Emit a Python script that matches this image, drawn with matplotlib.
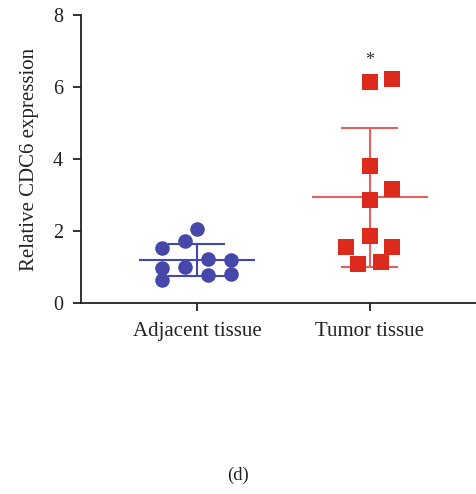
import matplotlib
matplotlib.use("Agg")
import matplotlib.pyplot as plt
import numpy as np

categories = ["Adjacent tissue", "Tumor tissue"]
adjacent_values = [1.52, 0.96, 0.64, 1.72, 1.01, 2.05, 1.21, 0.78, 1.19, 0.80]
adjacent_offsets = [-0.20, -0.20, -0.20, -0.07, -0.07, 0.0, 0.065, 0.065, 0.195, 0.195]
tumor_values = [6.15, 6.22, 3.81, 3.18, 2.86, 1.87, 1.56, 1.56, 1.08, 1.14]
tumor_offsets = [0.0, 0.13, 0.0, 0.13, 0.0, 0.0, -0.14, 0.13, -0.07, 0.065]
yticks = [0, 2, 4, 6, 8]

plt.rcParams['font.family'] = ['Liberation Serif', 'DejaVu Serif']

fig = plt.figure(figsize=(4.76, 4.94), dpi=100)
ax = fig.add_axes([81/476, 1-303/494, 1-81/476, (303-15)/494])

groups = [
    (adjacent_values, adjacent_offsets, 'o', '#4548a8', '#3f48b5', 0),
    (tumor_values, tumor_offsets, 's', '#dc2a1c', '#e46060', 1),
]
for vals, offs, mk, mcol, lcol, xi in groups:
    v = np.array(vals)
    m = v.mean()
    s = v.std(ddof=1)
    ax.scatter(xi + np.array(offs), v, marker=mk, s=110 if mk == 'o' else 120,
               color=mcol, zorder=3, linewidths=0)
    ax.hlines(m, xi - 0.333, xi + 0.333, color=lcol, lw=1.5, zorder=2)
    ax.hlines([m - s, m + s], xi - 0.165, xi + 0.165, color=lcol, lw=1.5, zorder=2)
    ax.vlines(xi, m - s, m + s, color=lcol, lw=1.5, zorder=2)

ax.text(1, 6.75, "*", ha='center', va='center', fontsize=13, color='#333333')

ax.set_xlim(-0.67, 1.613)
ax.set_ylim(0, 8)
ax.set_yticks(yticks)
ax.set_xticks([0, 1])
ax.set_xticklabels(categories)
for sp in ['top', 'right']:
    ax.spines[sp].set_visible(False)
for sp in ['left', 'bottom']:
    ax.spines[sp].set_linewidth(1.3)
    ax.spines[sp].set_color('#222222')
ax.tick_params(axis='both', length=6, width=1.3, color='#222222', labelsize=14.5,
               labelcolor='#222222')
ax.tick_params(axis='x', labelsize=15, pad=8)
ax.tick_params(axis='y', pad=7)
ax.set_ylabel("Relative CDC6 expression", fontsize=15, color='#222222', labelpad=10)

fig.text(238/476, 1-475/494, "(d)", ha='center', va='center', fontsize=13.5, color='#222222')

fig.savefig("out.png", dpi=100)
